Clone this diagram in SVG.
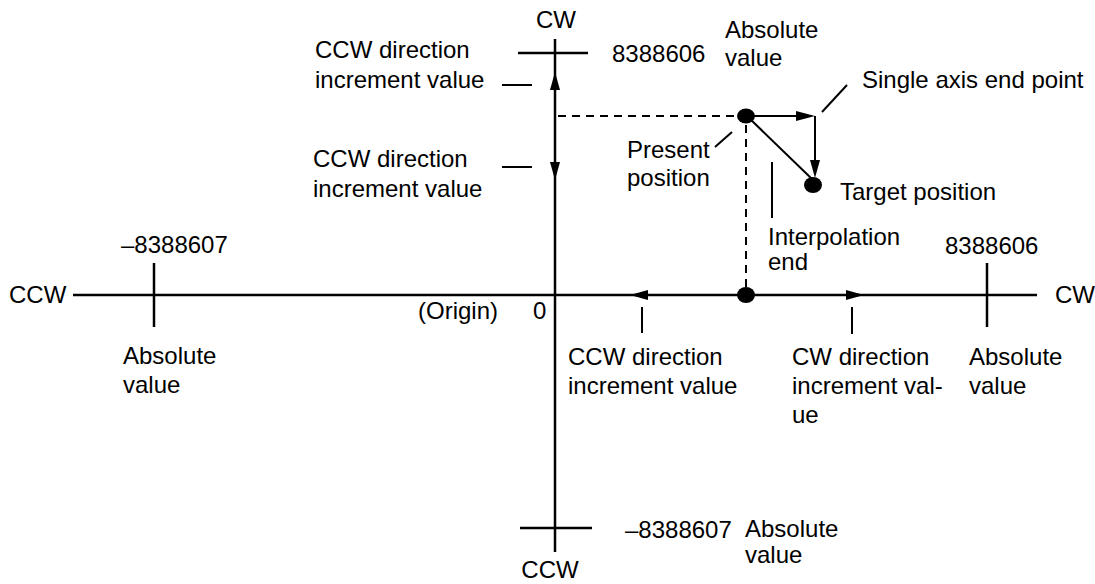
<svg xmlns="http://www.w3.org/2000/svg" width="1095" height="584" viewBox="0 0 1095 584">
<style>
text{font-family:"Liberation Sans",Arial,sans-serif;font-size:24px;fill:#000}
.ax{stroke:#000;stroke-width:2.5;fill:none}
.ln{stroke:#000;stroke-width:2;fill:none}
.ds{stroke:#000;stroke-width:2;fill:none;stroke-dasharray:8 6}
.mid{text-anchor:middle}
</style>
<rect width="1095" height="584" fill="#fff"/>
<g id="connectors">
<line class="ax" x1="73" y1="295" x2="1037" y2="295"/>
<line class="ax" x1="555" y1="39" x2="555" y2="552"/>
<line class="ds" x1="558" y1="116" x2="736" y2="116"/>
<line class="ds" x1="746" y1="125" x2="746" y2="287"/>
<line class="ln" x1="746" y1="116" x2="800" y2="116"/>
<line class="ln" x1="815" y1="116" x2="815" y2="165"/>
<line class="ln" x1="748" y1="117" x2="812" y2="179"/>
<polygon points="555,72 550,90 560,90"/>
<polygon points="555,180 550,162 560,162"/>
<polygon points="630,295 648,290 648,300"/>
<polygon points="864,295 846,290 846,300"/>
<polygon points="815,116 796,111 796,121"/>
<polygon points="815,178 810,160 820,160"/>
</g>
<g id="ticks">
<line class="ax" x1="518" y1="53" x2="588" y2="53"/>
<line class="ax" x1="520" y1="528" x2="592" y2="528"/>
<line class="ax" x1="154" y1="263" x2="154" y2="327"/>
<line class="ax" x1="987" y1="263" x2="987" y2="327"/>
<line class="ln" x1="502" y1="85" x2="532" y2="85"/>
<line class="ln" x1="502" y1="167" x2="532" y2="167"/>
<line class="ln" x1="642" y1="307" x2="642" y2="333"/>
<line class="ln" x1="852" y1="307" x2="852" y2="334"/>
<line class="ln" x1="715" y1="147" x2="732" y2="132"/>
<line class="ln" x1="822" y1="112" x2="847" y2="85"/>
<line class="ln" x1="772" y1="162" x2="772" y2="218"/>
</g>
<g id="present-position">
<ellipse cx="746" cy="116" rx="9" ry="7.5"/>
<text x="627" y="158">Present</text>
<text x="627" y="186">position</text>
</g>
<g id="target-position">
<ellipse cx="813" cy="185" rx="9" ry="8"/>
<text x="840" y="200">Target position</text>
</g>
<g id="interpolation-point">
<ellipse cx="746" cy="295" rx="9" ry="8"/>
</g>
<g id="labels">
<text class="mid" x="556" y="28">CW</text>
<text class="mid" x="550" y="578">CCW</text>
<text x="9" y="303">CCW</text>
<text x="1055" y="303">CW</text>
<text x="315" y="58">CCW direction</text>
<text x="315" y="88">increment value</text>
<text x="313" y="167">CCW direction</text>
<text x="313" y="197">increment value</text>
<text x="612" y="62">8388606</text>
<text x="725" y="38">Absolute</text>
<text x="725" y="66">value</text>
<text x="862" y="88">Single axis end point</text>
<text x="768" y="245">Interpolation</text>
<text x="768" y="270">end</text>
<text x="945" y="254">8388606</text>
<text x="121" y="253">–8388607</text>
<text x="123" y="364">Absolute</text>
<text x="123" y="393">value</text>
<text x="418" y="319">(Origin)</text>
<text x="533" y="319">0</text>
<text x="568" y="365">CCW direction</text>
<text x="568" y="394">increment value</text>
<text x="792" y="365">CW direction</text>
<text x="792" y="394">increment val-</text>
<text x="792" y="423">ue</text>
<text x="969" y="365">Absolute</text>
<text x="969" y="394">value</text>
<text x="625" y="538">–8388607</text>
<text x="745" y="537">Absolute</text>
<text x="745" y="563">value</text>
</g>
</svg>
